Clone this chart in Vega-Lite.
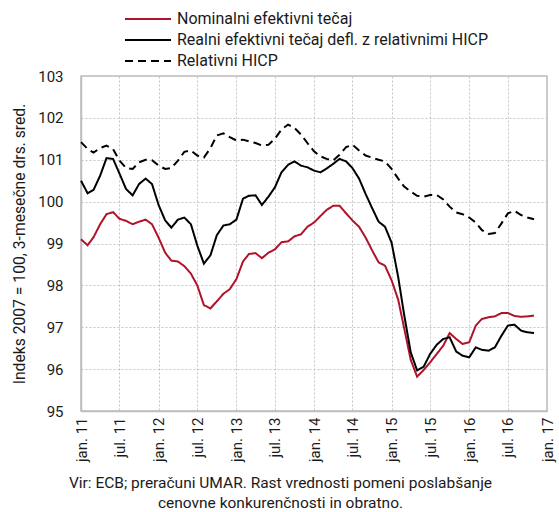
{
  "$schema": "https://vega.github.io/schema/vega-lite/v6.json",
  "width": 466,
  "height": 335,
  "autosize": {"type": "none"},
  "padding": {"left": 81, "top": 76, "right": 12, "bottom": 101},
  "background": "white",
  "config": {
    "font": "Roboto",
    "view": {"stroke": "#bdbdbd", "strokeWidth": 1.5},
    "axis": {
      "grid": true,
      "gridColor": "#c4c4c4",
      "gridDash": [2, 2],
      "gridWidth": 1,
      "ticks": false,
      "domainColor": "#bdbdbd",
      "domainWidth": 1.5,
      "labelColor": "#1a1a1a",
      "labelFontSize": 15,
      "titleColor": "#1a1a1a",
      "titleFontSize": 15.7,
      "titleFontWeight": "normal"
    },
    "legend": {
      "orient": "none",
      "legendX": 58,
      "legendY": -66,
      "title": null,
      "symbolType": "M-3,0H3",
      "symbolSize": 235,
      "symbolStrokeWidth": 2,
      "labelFontSize": 16,
      "labelColor": "#1a1a1a",
      "labelOffset": 20,
      "rowPadding": 4,
      "labelLimit": 400
    }
  },
  "data": {
    "values": [
      {"d": "2011-01-01", "n": 99.10, "r": 100.50, "h": 101.42},
      {"d": "2011-02-01", "n": 98.96, "r": 100.20, "h": 101.26},
      {"d": "2011-03-01", "n": 99.15, "r": 100.28, "h": 101.17},
      {"d": "2011-04-01", "n": 99.46, "r": 100.62, "h": 101.28},
      {"d": "2011-05-01", "n": 99.70, "r": 101.04, "h": 101.34},
      {"d": "2011-06-01", "n": 99.75, "r": 101.02, "h": 101.25},
      {"d": "2011-07-01", "n": 99.59, "r": 100.67, "h": 100.98},
      {"d": "2011-08-01", "n": 99.54, "r": 100.30, "h": 100.80},
      {"d": "2011-09-01", "n": 99.46, "r": 100.15, "h": 100.78},
      {"d": "2011-10-01", "n": 99.52, "r": 100.42, "h": 100.94},
      {"d": "2011-11-01", "n": 99.57, "r": 100.55, "h": 101.00},
      {"d": "2011-12-01", "n": 99.46, "r": 100.42, "h": 100.99},
      {"d": "2012-01-01", "n": 99.14, "r": 99.92, "h": 100.86},
      {"d": "2012-02-01", "n": 98.78, "r": 99.55, "h": 100.78},
      {"d": "2012-03-01", "n": 98.59, "r": 99.38, "h": 100.80},
      {"d": "2012-04-01", "n": 98.57, "r": 99.57, "h": 100.98},
      {"d": "2012-05-01", "n": 98.46, "r": 99.62, "h": 101.19},
      {"d": "2012-06-01", "n": 98.28, "r": 99.46, "h": 101.22},
      {"d": "2012-07-01", "n": 98.00, "r": 98.95, "h": 101.10},
      {"d": "2012-08-01", "n": 97.53, "r": 98.52, "h": 101.05},
      {"d": "2012-09-01", "n": 97.45, "r": 98.72, "h": 101.28},
      {"d": "2012-10-01", "n": 97.62, "r": 99.20, "h": 101.58},
      {"d": "2012-11-01", "n": 97.80, "r": 99.43, "h": 101.63},
      {"d": "2012-12-01", "n": 97.91, "r": 99.46, "h": 101.54},
      {"d": "2013-01-01", "n": 98.15, "r": 99.57, "h": 101.46},
      {"d": "2013-02-01", "n": 98.57, "r": 100.07, "h": 101.48},
      {"d": "2013-03-01", "n": 98.75, "r": 100.14, "h": 101.44},
      {"d": "2013-04-01", "n": 98.77, "r": 100.15, "h": 101.40},
      {"d": "2013-05-01", "n": 98.65, "r": 99.92, "h": 101.34},
      {"d": "2013-06-01", "n": 98.78, "r": 100.12, "h": 101.36},
      {"d": "2013-07-01", "n": 98.86, "r": 100.34, "h": 101.50},
      {"d": "2013-08-01", "n": 99.03, "r": 100.70, "h": 101.72},
      {"d": "2013-09-01", "n": 99.05, "r": 100.88, "h": 101.84},
      {"d": "2013-10-01", "n": 99.17, "r": 100.96, "h": 101.76},
      {"d": "2013-11-01", "n": 99.22, "r": 100.86, "h": 101.60},
      {"d": "2013-12-01", "n": 99.40, "r": 100.82, "h": 101.40},
      {"d": "2014-01-01", "n": 99.50, "r": 100.74, "h": 101.20},
      {"d": "2014-02-01", "n": 99.66, "r": 100.70, "h": 101.08},
      {"d": "2014-03-01", "n": 99.80, "r": 100.79, "h": 101.02},
      {"d": "2014-04-01", "n": 99.90, "r": 100.90, "h": 100.98},
      {"d": "2014-05-01", "n": 99.90, "r": 101.02, "h": 101.12},
      {"d": "2014-06-01", "n": 99.72, "r": 100.96, "h": 101.30},
      {"d": "2014-07-01", "n": 99.55, "r": 100.80, "h": 101.36},
      {"d": "2014-08-01", "n": 99.40, "r": 100.55, "h": 101.22},
      {"d": "2014-09-01", "n": 99.14, "r": 100.18, "h": 101.10},
      {"d": "2014-10-01", "n": 98.84, "r": 99.85, "h": 101.05},
      {"d": "2014-11-01", "n": 98.55, "r": 99.52, "h": 101.00},
      {"d": "2014-12-01", "n": 98.47, "r": 99.40, "h": 100.96},
      {"d": "2015-01-01", "n": 98.12, "r": 99.02, "h": 100.78},
      {"d": "2015-02-01", "n": 97.66, "r": 98.20, "h": 100.55},
      {"d": "2015-03-01", "n": 96.98, "r": 97.30, "h": 100.36},
      {"d": "2015-04-01", "n": 96.22, "r": 96.40, "h": 100.24},
      {"d": "2015-05-01", "n": 95.82, "r": 95.97, "h": 100.14},
      {"d": "2015-06-01", "n": 95.98, "r": 96.06, "h": 100.12},
      {"d": "2015-07-01", "n": 96.16, "r": 96.36, "h": 100.16},
      {"d": "2015-08-01", "n": 96.36, "r": 96.58, "h": 100.16},
      {"d": "2015-09-01", "n": 96.56, "r": 96.72, "h": 100.05},
      {"d": "2015-10-01", "n": 96.86, "r": 96.76, "h": 99.88},
      {"d": "2015-11-01", "n": 96.72, "r": 96.42, "h": 99.74},
      {"d": "2015-12-01", "n": 96.60, "r": 96.32, "h": 99.70},
      {"d": "2016-01-01", "n": 96.64, "r": 96.28, "h": 99.62},
      {"d": "2016-02-01", "n": 97.04, "r": 96.52, "h": 99.50},
      {"d": "2016-03-01", "n": 97.20, "r": 96.46, "h": 99.32},
      {"d": "2016-04-01", "n": 97.24, "r": 96.44, "h": 99.23},
      {"d": "2016-05-01", "n": 97.26, "r": 96.52, "h": 99.25},
      {"d": "2016-06-01", "n": 97.34, "r": 96.80, "h": 99.48},
      {"d": "2016-07-01", "n": 97.34, "r": 97.04, "h": 99.72},
      {"d": "2016-08-01", "n": 97.27, "r": 97.06, "h": 99.78},
      {"d": "2016-09-01", "n": 97.25, "r": 96.92, "h": 99.68},
      {"d": "2016-10-01", "n": 97.26, "r": 96.88, "h": 99.62},
      {"d": "2016-11-01", "n": 97.28, "r": 96.86, "h": 99.58}
    ]
  },
  "transform": [{"fold": ["n", "r", "h"], "as": ["s", "v"]}],
  "mark": {"type": "line", "strokeWidth": 2},
  "encoding": {
    "x": {
      "field": "d",
      "type": "temporal",
      "scale": {
        "type": "utc",
        "domain": [
          {"year": 2011, "month": 1, "date": 1, "utc": true},
          {"year": 2017, "month": 1, "date": 1, "utc": true}
        ]
      },
      "axis": {
        "values": [
          {"year": 2011, "month": 1, "date": 1, "utc": true},
          {"year": 2011, "month": 7, "date": 1, "utc": true},
          {"year": 2012, "month": 1, "date": 1, "utc": true},
          {"year": 2012, "month": 7, "date": 1, "utc": true},
          {"year": 2013, "month": 1, "date": 1, "utc": true},
          {"year": 2013, "month": 7, "date": 1, "utc": true},
          {"year": 2014, "month": 1, "date": 1, "utc": true},
          {"year": 2014, "month": 7, "date": 1, "utc": true},
          {"year": 2015, "month": 1, "date": 1, "utc": true},
          {"year": 2015, "month": 7, "date": 1, "utc": true},
          {"year": 2016, "month": 1, "date": 1, "utc": true},
          {"year": 2016, "month": 7, "date": 1, "utc": true},
          {"year": 2017, "month": 1, "date": 1, "utc": true}
        ],
        "labelExpr": "(utcmonth(datum.value) == 0 ? 'jan. ' : 'jul. ') + utcFormat(datum.value, '%y')",
        "labelAngle": -90,
        "labelPadding": 6,
        "labelFlush": false,
        "labelOverlap": false,
        "title": ["Vir: ECB; preračuni UMAR.  Rast vrednosti pomeni poslabšanje", "cenovne konkurenčnosti in obratno."],
        "titleFontSize": 15.5,
        "titleX": 199,
        "titleY": 76,
        "titleAlign": "center",
        "titleAnchor": null,
        "titleBaseline": "alphabetic",
        "titleLineHeight": 20
      }
    },
    "y": {
      "field": "v",
      "type": "quantitative",
      "scale": {"domain": [95, 103], "nice": false, "zero": false},
      "axis": {
        "values": [95, 96, 97, 98, 99, 100, 101, 102, 103],
        "labelPadding": 18,
        "title": "Indeks 2007 = 100, 3-mesečne drs. sred.",
        "titlePadding": 10
      }
    },
    "color": {
      "field": "s",
      "type": "nominal",
      "scale": {"domain": ["n", "r", "h"], "range": ["#b0132b", "#000000", "#000000"]},
      "legend": {"labelExpr": "datum.label == 'n' ? 'Nominalni efektivni tečaj' : datum.label == 'r' ? 'Realni efektivni tečaj defl. z relativnimi HICP' : 'Relativni HICP'"}
    },
    "strokeDash": {
      "field": "s",
      "type": "nominal",
      "scale": {"domain": ["n", "r", "h"], "range": [[1, 0], [1, 0], [8, 5]]},
      "legend": {"labelExpr": "datum.label == 'n' ? 'Nominalni efektivni tečaj' : datum.label == 'r' ? 'Realni efektivni tečaj defl. z relativnimi HICP' : 'Relativni HICP'"}
    }
  }
}
